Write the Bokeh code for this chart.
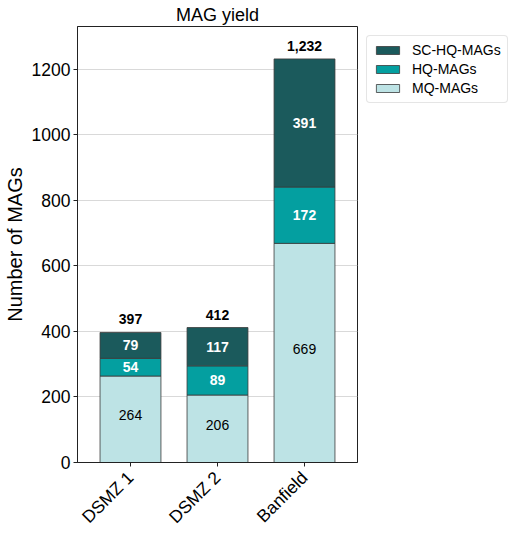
import math
from bokeh.plotting import figure
from bokeh.models import (ColumnDataSource, Range1d, FixedTicker, Legend, LegendItem)
from bokeh.core.properties import value
from bokeh.embed import file_html
from bokeh.resources import INLINE

categories = ["DSMZ 1", "DSMZ 2", "Banfield"]
mq_mags = [264, 206, 669]
hq_mags = [54, 89, 172]
schq_mags = [79, 117, 391]
series_names = ["MQ-MAGs", "HQ-MAGs", "SC-HQ-MAGs"]
colors = ["#bde3e5", "#049fa0", "#1b5a5c"]
y_ticks = [0, 200, 400, 600, 800, 1000, 1200]

FONT = "Liberation Sans"
xs = list(range(len(categories)))
totals = [a + b + c for a, b, c in zip(mq_mags, hq_mags, schq_mags)]

src = ColumnDataSource(dict(
    x=xs, mq=mq_mags, hq=hq_mags, schq=schq_mags,
    mq_mid=[v / 2 for v in mq_mags],
    hq_mid=[m + h / 2 for m, h in zip(mq_mags, hq_mags)],
    schq_mid=[m + h + s / 2 for m, h, s in zip(mq_mags, hq_mags, schq_mags)],
    total=totals,
    total_lbl=[f"{t:,}" for t in totals],
    mq_lbl=[str(v) for v in mq_mags],
    hq_lbl=[str(v) for v in hq_mags],
    schq_lbl=[str(v) for v in schq_mags],
))

p = figure(frame_width=280, frame_height=436, output_backend="svg", toolbar_location=None,
           x_range=Range1d(-0.609, 2.609), y_range=Range1d(0, 1331),
           min_border_left=60, min_border_bottom=0, min_border_top=0, min_border_right=0,
           title="MAG yield")
p.title.text_font = FONT
p.title.text_font_size = "18px"
p.title.text_font_style = "normal"
p.title.text_color = "black"
p.title.align = "center"
p.title.standoff = 4

renderers = p.vbar_stack(["mq", "hq", "schq"], x="x", width=0.7, source=src,
                         color=colors, line_color="#3a3a3a", line_width=0.8)

p.text(x="x", y="mq_mid", text="mq_lbl", source=src, text_align="center",
       text_baseline="middle", text_font=value(FONT), text_font_size="14px",
       text_color="black", y_offset=-4)
p.text(x="x", y="hq_mid", text="hq_lbl", source=src, text_align="center",
       text_baseline="middle", text_font=value(FONT), text_font_size="14px",
       text_font_style="bold", text_color="white")
p.text(x="x", y="schq_mid", text="schq_lbl", source=src, text_align="center",
       text_baseline="middle", text_font=value(FONT), text_font_size="14px",
       text_font_style="bold", text_color="white")
p.text(x="x", y="total", text="total_lbl", source=src, text_align="center",
       text_baseline="alphabetic", text_font=value(FONT), text_font_size="14px",
       text_font_style="bold", text_color="black", y_offset=-13)

legend = Legend(items=[LegendItem(label=series_names[i], renderers=[renderers[i]])
                       for i in [2, 1, 0]],
                location="top_left")
legend.label_text_font = FONT
legend.label_text_font_size = "14px"
legend.label_text_color = "black"
legend.glyph_width = 29
legend.glyph_height = 10
legend.label_height = 14
legend.spacing = 3
legend.padding = 6
legend.margin = 9
legend.border_line_color = "#cccccc"
legend.border_radius = 4
legend.label_standoff = 10
p.add_layout(legend, "right")

p.xgrid.visible = False
p.ygrid.grid_line_color = "#d9d9d9"
p.ygrid.grid_line_width = 1
p.outline_line_color = "#222222"
p.outline_line_width = 1

p.yaxis.ticker = FixedTicker(ticks=y_ticks)
p.yaxis.axis_label = "Number of MAGs"
p.yaxis.axis_label_text_font = FONT
p.yaxis.axis_label_text_font_size = "20px"
p.yaxis.axis_label_text_font_style = "normal"
p.yaxis.axis_label_text_color = "black"
p.yaxis.axis_label_standoff = 3

p.xaxis.ticker = FixedTicker(ticks=xs)
p.xaxis.major_label_overrides = {i: c for i, c in zip(xs, categories)}
p.xaxis.major_label_orientation = math.pi / 4

for ax in (p.xaxis, p.yaxis):
    ax.major_label_text_font = FONT
    ax.major_label_text_font_size = "17.5px"
    ax.major_label_text_color = "black"
    ax.axis_line_color = "#222222"
    ax.major_tick_line_color = "#222222"
    ax.major_tick_out = 4
    ax.major_tick_in = 0
    ax.minor_tick_line_color = None
p.yaxis.major_label_standoff = 3
p.xaxis.major_label_standoff = 8

open("out.html", "w").write(file_html(p, INLINE))
